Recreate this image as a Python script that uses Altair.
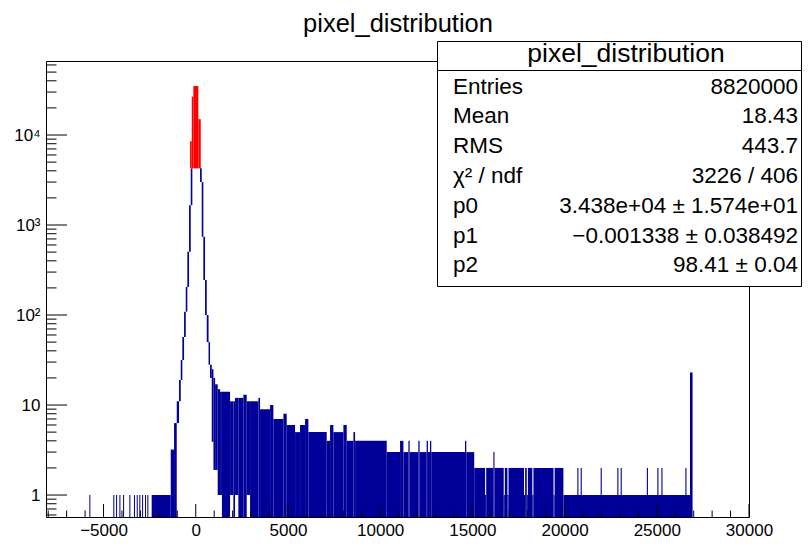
import altair as alt
import pandas as pd

X_DOMAIN = [-8120, 30000]
Y_DOMAIN = [0.57, 66400]
BLUE = "#000099"
RED = "#ff0000"
FONT = "Liberation Sans"

# isolated single-count bins left of the peak
left_single_x = [-5770, -4470, -4320, -4140, -3940, -3600, -3350, -3200, -3060, -2910, -2750, -2625]
SINGLE_W = 55

# envelope of the histogram around the peak: x0, x1, min count, max count (0 = empty bins)
core_x0 = [-2390, -1356, -1177, -1030, -906, -813, -727, -634, -542, -456, -363, -271,
           233, 325, 412, 504, 597, 694, 775, 868, 960, 1050, 1190, 1318, 1420, 1860,
           2040, 2131, 2310, 2583, 2764, 2945, 3397]
core_x1 = [-1356, -1177, -1030, -906, -813, -727, -634, -542, -456, -363, -271, -184,
           325, 412, 504, 597, 694, 775, 868, 960, 1050, 1190, 1318, 1420, 1860, 2040,
           2131, 2310, 2583, 2764, 2945, 3397, 3487]
core_lo = [0, 0, 0, 6.3, 11, 19, 31.6, 57, 109, 205, 505, 1660,
           3000, 740, 245, 100, 50, 28, 20, 3.9, 1.9, 1.9, 1, 1, 0, 1,
           0, 1, 0, 0, 1, 0, 0]
core_hi = [1, 3.2, 6.3, 11, 19, 31.6, 57, 109, 205, 505, 1660, 4260,
           4260, 3000, 740, 245, 100, 50, 28, 25, 20, 17, 15, 14, 14, 11,
           11, 12, 12, 13, 11, 11, 12]

# gaussian fit drawn in red over the peak
fit_x0 = [-309, -217, -130, 141]
fit_x1 = [-217, -130, 141, 271]
fit_lo = [4260, 4260, 4260, 4260]
fit_hi = [8500, 26700, 35000, 15000]

# long tail: segment start and max count
tail_x = [3487, 4029, 4210, 4752, 4933, 5385, 5656, 5927, 6108, 7102, 7283, 7464, 8006,
          8187, 8550, 8640, 10356, 11079, 11260, 11530, 11600, 12070, 12140, 12520,
          12590, 12700, 12770, 14600, 14670, 15100, 15690, 15750, 16140, 16200, 16700,
          16760, 16900, 16960, 17800, 17860, 17950, 18010, 18250, 18310, 19400, 19460,
          19936]
tail_hi = [9, 10, 7, 8, 6, 5, 6, 7, 5, 4, 6, 5, 6,
           4, 5, 4, 3, 4, 3, 4, 3, 4, 3, 4,
           3, 4, 3, 4, 3, 2, 1, 2, 3, 2, 1,
           2, 1, 2, 1, 2, 1, 2, 1, 2, 1, 2,
           1]
tail_end = 26800

# two-count bins in the far tail
far_spike_x = [20691, 20872, 21956, 22860, 23040, 24460, 25030, 25250, 26550]
far_spike_w = 60
far_spike_hi = 2

# last bin
end_x0, end_x1, end_hi = 26800, 26940, 23

# axis ticks
x_major = [-5000, 0, 5000, 10000, 15000, 20000, 25000, 30000]
x_minor = [-8000, -7000, -6000, -4000, -3000, -2000, -1000, 1000, 2000, 3000, 4000,
           6000, 7000, 8000, 9000, 11000, 12000, 13000, 14000, 16000, 17000, 18000,
           19000, 21000, 22000, 23000, 24000, 26000, 27000, 28000, 29000]
y_major = [1, 10, 100, 1000, 10000]
y_major_text = ["1", "10", "10²", "10³", "10⁴"]
y_minor = [0.6, 0.7, 0.8, 0.9, 2, 3, 4, 5, 6, 7, 8, 9, 20, 30, 40, 50, 60, 70, 80, 90,
           200, 300, 400, 500, 600, 700, 800, 900, 2000, 3000, 4000, 5000, 6000, 7000,
           8000, 9000, 20000, 30000, 40000, 50000, 60000]

title_text = "pixel_distribution"
stat_labels = ["Entries", "Mean", "RMS", "χ² / ndf", "p0", "p1", "p2"]
stat_values = ["8820000", "18.43", "443.7", "3226 / 406",
               "3.438e+04 ± 1.574e+01", "−0.001338 ± 0.038492", "98.41 ± 0.04"]

# ---------------------------------------------------------------- tables
rows = []
for s in left_single_x:
    rows.append((s, s + SINGLE_W, 0, 1))
for a, b, lo, hi in zip(core_x0, core_x1, core_lo, core_hi):
    rows.append((a, b, lo, hi))
for a, b, h in zip(tail_x, tail_x[1:] + [tail_end], tail_hi):
    rows.append((a, b, 0, h))
for s in far_spike_x:
    rows.append((s, s + far_spike_w, 0, far_spike_hi))
rows.append((end_x0, end_x1, 0, end_hi))
hist = pd.DataFrame(rows, columns=["x0", "x1", "lo", "hi"])
hist["lo"] = hist["lo"].clip(lower=Y_DOMAIN[0])

fit = pd.DataFrame({"x0": fit_x0, "x1": fit_x1, "lo": fit_lo, "hi": fit_hi})

W, H = 703, 456
PAD_L, PAD_T = 38, 53
SVG_W, SVG_H = 795, 530
xs = alt.Scale(domain=X_DOMAIN, nice=False, zero=False)
ys = alt.Scale(type="log", domain=Y_DOMAIN, nice=False)

label_expr = " : ".join(
    f"datum.value == {v} ? '{t}'" for v, t in zip(y_major[:-1], y_major_text[:-1])
) + f" : '{y_major_text[-1]}'"

xaxis = alt.Axis(values=x_major, ticks=False, tickSize=0, domain=False, grid=False,
                 labelFontSize=17, labelFont=FONT, labelColor="black", labelPadding=5,
                 title=None, labelFlush=False, labelOverlap=False, format="d")
yaxis = alt.Axis(values=y_major, ticks=False, tickSize=0, domain=False, grid=False,
                 labelFontSize=17, labelFont=FONT, labelColor="black", labelPadding=6,
                 title=None, labelExpr=label_expr, labelOverlap=False)

hist_layer = alt.Chart(hist).mark_rect(color=BLUE, clip=True).encode(
    x=alt.X("x0:Q", scale=xs, axis=xaxis), x2="x1:Q",
    y=alt.Y("lo:Q", scale=ys, axis=yaxis), y2="hi:Q",
)
fit_layer = alt.Chart(fit).mark_rect(color=RED, clip=True).encode(
    x=alt.X("x0:Q", scale=xs, axis=xaxis), x2="x1:Q",
    y=alt.Y("lo:Q", scale=ys, axis=yaxis), y2="hi:Q",
)

def xticks(vals, length):
    return alt.Chart(pd.DataFrame({"v": vals})).mark_rule(color="black", strokeWidth=1).encode(
        x=alt.X("v:Q", scale=xs, axis=xaxis), y=alt.value(H), y2=alt.value(H - length))

def yticks(vals, length):
    return alt.Chart(pd.DataFrame({"v": vals})).mark_rule(color="black", strokeWidth=1).encode(
        y=alt.Y("v:Q", scale=ys, axis=yaxis), x=alt.value(0), x2=alt.value(length))

layers = [hist_layer, fit_layer,
          xticks(x_major, 13), xticks(x_minor, 6.5),
          yticks(y_major, 21), yticks(y_minor, 10.5)]

# page coordinates -> plot coordinates
def px(xp):
    return xp - 8 - PAD_L

def py(yp):
    return yp - 8 - PAD_T

# title
layers.append(alt.Chart(pd.DataFrame({"t": [title_text]})).mark_text(
    font=FONT, fontSize=25.5, align="center", baseline="alphabetic", color="black").encode(
    text="t:N", x=alt.value(px(398)), y=alt.value(py(31.5))))

# stats box
layers.append(alt.Chart(pd.DataFrame({"a": [0]})).mark_rect(
    fill="white", stroke="black", strokeWidth=1).encode(
    x=alt.value(px(437.5)), x2=alt.value(px(801.5)), y=alt.value(py(41.5)), y2=alt.value(py(286.5))))
layers.append(alt.Chart(pd.DataFrame({"a": [0]})).mark_rule(color="black", strokeWidth=1).encode(
    x=alt.value(px(437.5)), x2=alt.value(px(801.5)), y=alt.value(py(70.5)), y2=alt.value(py(70.5))))
layers.append(alt.Chart(pd.DataFrame({"t": [title_text]})).mark_text(
    font=FONT, fontSize=26.5, align="center", baseline="alphabetic", color="black").encode(
    text="t:N", x=alt.value(px(626)), y=alt.value(py(62))))
for i, (lab, val) in enumerate(zip(stat_labels, stat_values)):
    yy = py(93.5 + 29.8 * i)
    layers.append(alt.Chart(pd.DataFrame({"t": [lab]})).mark_text(
        font=FONT, fontSize=22.5, align="left", baseline="alphabetic", color="black").encode(
        text="t:N", x=alt.value(px(453)), y=alt.value(yy)))
    layers.append(alt.Chart(pd.DataFrame({"t": [val]})).mark_text(
        font=FONT, fontSize=22.5, align="right", baseline="alphabetic", color="black").encode(
        text="t:N", x=alt.value(px(798)), y=alt.value(yy)))

chart = alt.layer(*layers).properties(
    width=W, height=H,
    autosize=alt.AutoSizeParams(type="none"),
    padding={"left": PAD_L, "top": PAD_T, "right": SVG_W - PAD_L - W, "bottom": SVG_H - PAD_T - H},
    background="white",
).configure_view(stroke="black", strokeWidth=1)

chart.save("out.html", embed_options={"renderer": "svg", "actions": False})
